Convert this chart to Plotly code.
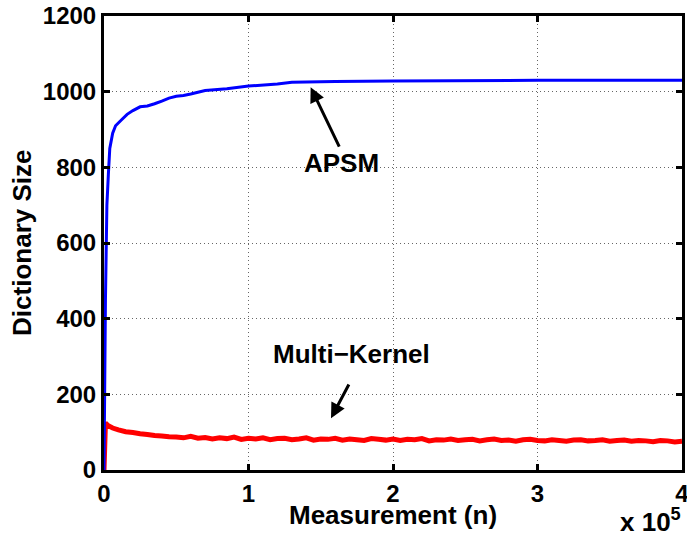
import plotly.graph_objects as go

# APSM dictionary size
apsm_x = [0, 1000, 2000, 3000, 4000, 6000, 8000, 12000, 16000, 20000, 25000, 30000,
          35000, 40000, 45000, 50000, 55000, 60000, 70000, 85000, 100000, 120000,
          130000, 160000, 200000, 300000, 400000]
apsm_y = [0, 450, 700, 780, 850, 890, 910, 925, 940, 950, 960, 962,
          968, 975, 983, 988, 990, 994, 1003, 1008, 1015, 1020,
          1025, 1027, 1028, 1030, 1030]

# Multi-Kernel dictionary size (noisy)
mk_x = [0, 1000, 3000, 6000,
        10000, 15000, 20000, 25000, 30000, 35000, 40000, 45000, 50000, 55000,
        60000, 65000, 70000, 75000, 80000, 85000, 90000, 95000, 100000, 105000,
        110000, 115000, 120000, 125000, 130000, 135000, 140000, 145000, 150000, 155000,
        160000, 165000, 170000, 175000, 180000, 185000, 190000, 195000, 200000, 205000,
        210000, 215000, 220000, 225000, 230000, 235000, 240000, 245000, 250000, 255000,
        260000, 265000, 270000, 275000, 280000, 285000, 290000, 295000, 300000, 305000,
        310000, 315000, 320000, 325000, 330000, 335000, 340000, 345000, 350000, 355000,
        360000, 365000, 370000, 375000, 380000, 385000, 390000, 395000, 400000]
mk_y = [0, 124, 117, 111,
        106, 101, 99, 96, 94, 91, 90, 88, 87, 85,
        89, 84, 86, 82, 85, 83, 87, 81, 84, 82,
        85, 80, 83, 84, 80, 82, 85, 79, 82, 81,
        84, 79, 82, 80, 78, 83, 81, 79, 82, 78,
        81, 80, 83, 77, 80, 79, 82, 78, 80, 81,
        77, 80, 82, 78, 79, 76, 80, 81, 78, 77,
        80, 78, 76, 79, 80, 77, 78, 80, 76, 78,
        79, 76, 78, 77, 75, 78, 77, 74, 76]

xtick_vals = [0, 100000, 200000, 300000, 400000]
xtick_text = ["0", "1", "2", "3", "4"]
ytick_vals = [0, 200, 400, 600, 800, 1000, 1200]
ytick_text = ["0", "200", "400", "600", "800", "1000", "1200"]

FONT = "Liberation Sans"


def b(s):
    return "<b>" + s + "</b>"


fig = go.Figure()
fig.add_trace(go.Scatter(x=mk_x, y=mk_y, mode="lines",
                         line=dict(color="#ff0000", width=5, simplify=False),
                         name="Multi-Kernel"))
fig.add_trace(go.Scatter(x=apsm_x, y=apsm_y, mode="lines",
                         line=dict(color="#0000ff", width=3, simplify=False),
                         name="APSM"))

axis_common = dict(
    showline=True, linecolor="black", linewidth=3, mirror="allticks",
    ticks="inside", ticklen=6, tickwidth=3, tickcolor="black",
    showgrid=True, gridcolor="#666666", griddash="1px,3px", gridwidth=1,
    zeroline=False, automargin=False, ticklabeloverflow="allow",
    tickfont=dict(family=FONT, size=24, color="black"),
)

fig.update_layout(
    width=687, height=540,
    margin=dict(l=104, r=5, t=16, b=70),
    plot_bgcolor="white", paper_bgcolor="white",
    showlegend=False,
    xaxis=dict(range=[0, 400000], tickvals=xtick_vals,
               ticktext=[b(t) for t in xtick_text], **axis_common),
    yaxis=dict(range=[0, 1200], tickvals=ytick_vals,
               ticktext=[b(t) for t in ytick_text], **axis_common),
)

title_font = dict(family=FONT, size=26, color="black")
fig.add_annotation(x=0.5, y=-0.1, xref="paper", yref="paper", text=b("Measurement (n)"),
                   showarrow=False, xanchor="center", yanchor="middle", font=title_font)
fig.add_annotation(x=-0.142, y=0.5, xref="paper", yref="paper", text=b("Dictionary Size"),
                   showarrow=False, xanchor="center", yanchor="middle", textangle=-90,
                   font=title_font)
fig.add_annotation(x=1.002, y=-0.152, xref="paper", yref="paper",
                   text=b("x 10<sup>5</sup>"),
                   showarrow=False, xanchor="right", yanchor="bottom", font=title_font)

fig.add_annotation(x=143000, y=1012, ax=163300, ay=851, axref="x", ayref="y",
                   text="", showarrow=True, arrowhead=2, arrowsize=1, arrowwidth=3,
                   arrowcolor="black")
fig.add_annotation(x=164700, y=811, text=b("APSM"), showarrow=False, font=title_font)
fig.add_annotation(x=157100, y=137, ax=170000, ay=230, axref="x", ayref="y",
                   text="", showarrow=True, arrowhead=2, arrowsize=1, arrowwidth=3,
                   arrowcolor="black")
fig.add_annotation(x=171000, y=307, text=b("Multi\u2212Kernel"), showarrow=False,
                   font=title_font)

fig.write_html("out.html", config={"displayModeBar": False},
               post_script="document.body.style.margin='0';"
                           "document.body.style.overflow='hidden';")
